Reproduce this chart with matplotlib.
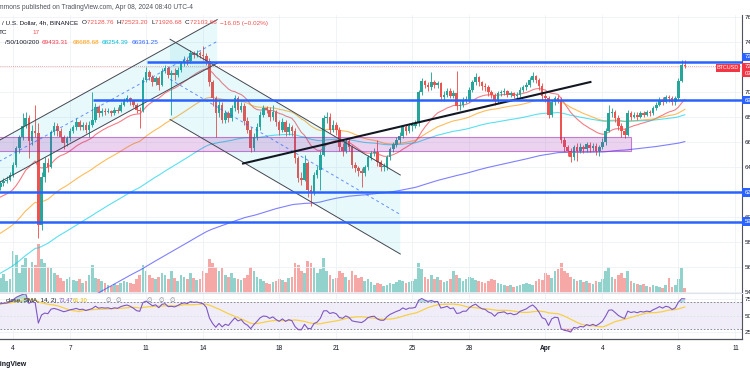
import numpy as np
import pandas as pd
import matplotlib
matplotlib.use("Agg")
import matplotlib.pyplot as plt
from matplotlib.patches import Rectangle, Polygon

plt.rcParams['font.family'] = ['Liberation Sans', 'DejaVu Sans']

# ---------------- data (BTCUSD 4h, prices in thousands) ----------------
first_open_k = 62.4
closes_k = [
    62.7, 62.9, 63.0, 63.4,
    64.2, 65.5, 66.4, 67.3, 67.9, 66.1,
    66.9, 66.7, 59.4, 63.2, 64.3, 64.0,
    66.8, 67.3, 66.9, 66.4, 65.9, 66.3,
    66.9, 67.2, 67.6, 67.2, 67.4, 67.0,
    67.4, 67.8, 68.8, 68.3, 68.5, 68.4,
    68.5, 68.3, 68.6, 68.5, 69.0, 69.3,
    69.5, 69.3, 69.0, 68.6, 68.5, 71.0,
    71.6, 71.2, 70.8, 71.1, 70.6, 71.7,
    71.9, 71.4, 71.5, 71.4, 71.8, 72.3,
    72.6, 72.5, 73.1, 73.0, 73.1, 73.0,
    72.9, 72.5, 70.8, 69.5, 68.3, 69.0,
    67.8, 68.3, 67.9, 68.7, 69.5, 68.6,
    68.9, 67.7, 67.0, 65.5, 66.4, 67.2,
    68.2, 68.7, 68.6, 68.0, 68.4, 67.6,
    67.0, 67.6, 66.8, 67.2, 66.9, 64.7,
    63.1, 63.0, 64.3, 62.2, 62.0, 63.4,
    63.8, 65.0, 67.9, 68.0, 67.0, 67.4,
    67.0, 65.6, 65.3, 66.1, 65.6, 64.2,
    63.9, 63.7, 63.5, 64.0, 64.8, 65.1,
    65.2, 64.4, 64.0, 64.0, 64.8, 65.4,
    65.8, 66.2, 66.5, 67.2, 66.9, 67.3,
    67.3, 67.5, 70.0, 70.9, 70.6, 70.4,
    70.8, 70.6, 70.7, 69.6, 69.8, 70.1,
    69.7, 69.9, 68.9, 69.0, 69.4, 69.4,
    70.2, 70.8, 71.2, 70.8, 70.5, 70.4,
    70.0, 69.8, 69.3, 69.9, 70.0, 70.1,
    69.8, 69.9, 69.7, 69.8, 70.2, 70.4,
    70.6, 71.0, 71.3, 71.0, 70.5, 69.7,
    69.5, 68.2, 69.2, 69.5, 69.4, 66.2,
    65.6, 65.3, 64.8, 65.6, 65.3, 65.6,
    65.4, 65.8, 65.5, 65.7, 65.3, 65.6,
    66.0, 66.9, 68.3, 68.4, 67.9, 67.3,
    66.9, 66.6, 68.3, 68.0, 68.2, 68.0,
    68.3, 68.2, 68.4, 68.3, 68.7, 69.0,
    69.4, 69.2, 69.6, 69.5, 69.2, 69.5,
    70.9, 72.12876, 72.10366,
]
highs_k = [
    62.9, 63.1, 63.3, 63.6,
    64.4, 65.7, 66.6, 68.3, 68.4, 68.2,
    67.4, 69.0, 67.5, 63.6, 64.8, 64.7,
    67.0, 67.6, 67.5, 67.1, 66.6, 66.5,
    67.1, 67.4, 67.9, 67.8, 67.6, 67.6,
    67.7, 70.0, 69.1, 69.0, 68.7, 68.7,
    68.7, 68.6, 68.8, 68.8, 69.2, 69.5,
    69.8, 69.6, 69.4, 69.1, 68.8, 71.2,
    72.0, 71.8, 71.4, 71.3, 71.3, 71.9,
    72.2, 72.1, 71.8, 71.9, 72.0, 72.5,
    72.9, 72.8, 73.4, 73.3, 73.4, 73.3,
    73.7, 73.1, 72.7, 71.0, 69.7, 69.3,
    69.2, 68.6, 68.5, 69.0, 69.8, 69.7,
    69.2, 69.1, 68.0, 67.2, 66.7, 67.5,
    68.5, 69.0, 68.9, 68.8, 69.0, 68.6,
    67.8, 67.9, 67.8, 67.5, 67.4, 67.1,
    64.9, 63.6, 65.0, 64.5, 62.6, 63.6,
    64.1, 65.3, 68.2, 68.4, 68.3, 67.8,
    67.6, 67.2, 65.9, 66.3, 66.3, 65.8,
    64.4, 64.1, 63.9, 64.2, 65.0, 65.3,
    65.5, 66.2, 64.6, 64.3, 65.0, 65.6,
    66.0, 66.4, 66.8, 67.4, 67.4, 67.5,
    67.6, 67.8, 70.2, 71.1, 71.0, 70.8,
    71.6, 71.0, 70.9, 70.8, 70.1, 70.3,
    70.3, 70.2, 71.7, 69.3, 69.6, 69.7,
    70.4, 71.0, 71.5, 71.3, 70.9, 70.7,
    70.6, 70.2, 69.9, 70.1, 70.2, 70.3,
    70.2, 70.1, 70.0, 70.0, 70.4, 70.6,
    70.8, 71.2, 71.6, 71.4, 71.1, 70.7,
    69.9, 69.7, 69.4, 69.7, 69.8, 69.6,
    66.4, 65.8, 65.5, 65.8, 65.9, 65.9,
    65.8, 66.0, 66.0, 65.9, 65.9, 65.8,
    66.3, 67.1, 69.0, 68.7, 68.6, 68.2,
    67.5, 67.1, 68.6, 68.5, 68.4, 68.4,
    68.5, 68.5, 68.6, 68.6, 68.9, 69.2,
    69.6, 69.6, 69.8, 69.8, 69.7, 69.7,
    71.1, 72.6, 72.5232,
]
lows_k = [
    62.2, 62.5, 62.7, 62.9,
    63.2, 64.0, 65.1, 66.2, 67.1, 64.7,
    65.8, 66.4, 58.3, 59.0, 62.8, 63.6,
    63.9, 66.6, 66.5, 66.0, 65.4, 65.7,
    66.1, 66.7, 67.0, 67.0, 67.0, 66.7,
    66.4, 67.2, 67.6, 68.0, 68.1, 68.2,
    68.3, 68.1, 68.2, 68.3, 68.4, 68.9,
    69.2, 69.0, 68.8, 68.3, 67.1, 68.4,
    70.8, 71.0, 70.5, 70.6, 70.2, 70.5,
    71.5, 71.1, 68.2, 71.0, 71.2, 71.6,
    72.1, 72.2, 72.3, 72.7, 72.8, 72.7,
    72.6, 72.2, 70.5, 68.9, 66.4, 68.0,
    67.5, 67.5, 67.6, 67.7, 68.5, 68.3,
    68.4, 67.4, 66.7, 65.2, 65.3, 66.2,
    67.0, 68.0, 68.3, 67.7, 67.8, 67.3,
    66.6, 66.8, 66.5, 66.6, 66.5, 64.3,
    62.8, 62.6, 62.9, 61.6, 60.9, 61.8,
    63.1, 62.2, 64.9, 67.5, 66.7, 66.8,
    66.6, 65.3, 64.9, 65.1, 65.3, 63.9,
    63.6, 63.3, 62.4, 63.3, 63.8, 64.6,
    64.9, 64.1, 63.7, 63.7, 63.8, 64.6,
    65.2, 65.6, 65.9, 66.3, 66.6, 66.7,
    66.9, 67.1, 67.3, 69.8, 70.3, 70.1,
    70.2, 70.3, 70.3, 69.3, 69.3, 69.6,
    69.5, 69.5, 68.6, 68.6, 68.8, 69.1,
    69.2, 70.0, 70.6, 70.5, 70.2, 70.1,
    69.7, 69.5, 69.0, 69.1, 69.7, 69.8,
    69.6, 69.6, 69.5, 69.5, 69.6, 70.0,
    70.2, 70.4, 70.8, 70.7, 70.2, 69.4,
    69.2, 67.9, 68.0, 69.0, 69.1, 65.9,
    65.2, 64.9, 64.4, 64.6, 64.5, 65.1,
    65.1, 65.2, 65.2, 65.3, 65.0, 64.9,
    65.4, 65.8, 66.8, 68.0, 67.6, 67.0,
    66.4, 66.3, 66.5, 67.8, 67.9, 67.8,
    67.9, 68.0, 68.1, 68.1, 68.2, 68.6,
    68.9, 69.0, 69.1, 69.2, 69.0, 69.0,
    69.4, 70.8, 71.92668,
]
volumes = [
    15, 19, 12, 14,
    42, 38, 20, 28, 35, 25,
    31, 28, 49, 34, 30, 26,
    25, 20, 18, 15, 12, 14,
    16, 13, 12, 14, 10, 12,
    18, 28, 15, 14, 12, 10,
    8, 7, 9, 8, 10, 12,
    11, 10, 9, 14, 18, 28,
    22, 18, 15, 14, 16, 20,
    18, 14, 22, 15, 12, 18,
    16, 14, 20, 15, 13, 14,
    22, 20, 34, 30, 26, 22,
    25, 18, 16, 20, 15, 14,
    13, 15, 18, 26, 22, 16,
    14, 12, 10, 9, 11, 12,
    14, 13, 11, 15, 16, 30,
    28, 22, 20, 32, 30, 26,
    20, 24, 35, 22, 18, 14,
    15, 22, 20, 16, 13, 22,
    18, 15, 16, 12, 14, 11,
    8, 10, 9, 7, 8, 10,
    9, 11, 13, 12, 10, 11,
    12, 14, 30, 24, 16, 14,
    18, 14, 16, 13, 11, 12,
    14, 22, 18, 15, 12, 14,
    16, 15, 13, 12, 11, 10,
    12, 14, 13, 10, 9, 8,
    7, 8, 6, 7, 8, 9,
    10, 9, 8, 12, 14, 13,
    20, 18, 15, 22, 24, 30,
    22, 20, 16, 14, 12, 13,
    11, 12, 10, 9, 12, 11,
    14, 22, 26, 16, 14, 18,
    20, 15, 22, 12, 10, 9,
    8, 9, 7, 6, 8, 7,
    6, 5, 8, 15, 6, 8,
    14, 25, 5,
]
# EMA 20/50/100/200 values at the first visible bar
ema_periods = [20, 50, 100, 200]
ema_start = [61600, 58700, 55500, 49500]
ema_colors = ['#f23645', '#ff9800', '#00d0e8', '#3b3bff']
ema_legend = ['69433.31', '68688.68', '68254.39', '66361.25']
ema_legend_colors = ['#f23645', '#ff9800', '#00bcd4', '#2962ff']
# RSI warm-up averages (gain, loss) at first bar
rsi_seed = (420.0, 200.0)
rsi_legend = ['73.47', '61.30']

# Drawings (day-of-March coordinates, prices)
asc_x = (3.05, 14.74); asc_up = (65940, 75790); asc_lo = (62580, 72310)
desc_x = (12.26, 24.37); desc_up = (74220, 63360); desc_lo = (67800, 57040)
trend_x = (16.1, 34.37); trend_p = (64280, 70800)
zone_x = (3.0, 36.53); zone_p = (65300, 66380)
levels = [(72420, 11.05), (69360, 8.21), (62020, 3.0), (59620, 3.0)]
last_price = 72103.66
hidden_ticks = [72000, 62000]   # price-scale labels covered by the level/price tags

tick_days = [4, 7, 11, 14, 18, 21, 25, 28, 32, 35, 39, 42]
tick_labels = ['4', '7', '11', '14', '18', '21', '25', '28', 'Apr', '4', '8', '11']

# ---------------- derived ----------------
closes = np.array(closes_k) * 1000
highs = np.array(highs_k) * 1000
lows = np.array(lows_k) * 1000
opens = np.concatenate([[first_open_k * 1000], closes[:-1]])
n = len(closes)
days = 3 + 8 / 24 + np.arange(n) / 6.0
up = closes >= opens

emas = []
for p, s in zip(ema_periods, ema_start):
    a = 2.0 / (p + 1)
    e = [s]
    for c in closes[1:]:
        e.append(e[-1] + a * (c - e[-1]))
    emas.append(np.array(e))

ag, al = rsi_seed
rsi = [100 - 100 / (1 + ag / al)]
for d in np.diff(closes):
    ag = (ag * 13 + max(d, 0)) / 14
    al = (al * 13 + max(-d, 0)) / 14
    rsi.append(100 - 100 / (1 + ag / al))
rsi = np.array(rsi)
rsi_ma = pd.Series(rsi).rolling(14, min_periods=1).mean().values

# ---------------- figure ----------------
W, H = 750, 375
fig = plt.figure(figsize=(7.5, 3.75), dpi=100)
fig.patch.set_facecolor('white')

def fx(px): return px / W
def fy(py): return 1 - py / H

ax = fig.add_axes([0, fy(293), fx(741.5), (293 - 15) / H])
axr = fig.add_axes([0, fy(339), fx(741.5), (339 - 293) / H], sharex=ax)
axv = ax.twinx()

GREEN, RED = '#26a69a', '#ef5350'
GRID = '#eef1f6'
XL = (3.316, 42.316)

ax.set_xlim(*XL)
ax.set_ylim(53920, 76160)
axv.set_ylim(0, max(volumes) * 278 / 49)

# grid
ax.set_xticks(tick_days)
ax.set_yticks(np.arange(54000, 76001, 2000))
ax.grid(True, color=GRID, lw=0.6, zorder=0)
ax.tick_params(axis='x', length=0, labelbottom=False)
ax.tick_params(axis='y', length=0, labelleft=False, labelright=True, labelsize=4.5,
               labelcolor='#131722', pad=2.5)
ax.yaxis.set_major_formatter(matplotlib.ticker.FuncFormatter(
    lambda v, p: '' if round(v) in hidden_ticks else f'{v:.2f}'))
for s in ['top', 'left']:
    ax.spines[s].set_visible(False)
ax.spines['bottom'].set_color('#e0e3eb'); ax.spines['bottom'].set_linewidth(0.8)
ax.spines['right'].set_color('#50535e'); ax.spines['right'].set_linewidth(0.8)
axv.set_axis_off()
ax.set_zorder(axv.get_zorder() + 1)
ax.patch.set_visible(False)

# volume
vcol = [GREEN if u else RED for u in up]
axv.bar(days, volumes, width=0.14, color=vcol, alpha=0.5, linewidth=0)

# EMAs
for e, col in zip(emas, ema_colors):
    ax.plot(days, e, color=col, lw=0.8, alpha=0.65, zorder=2)

# candles
ccol = np.where(up, GREEN, RED)
ax.vlines(days, lows, highs, colors=ccol, lw=0.65, zorder=3)
body = np.maximum(np.abs(closes - opens), 70)
ax.bar(days, body, bottom=np.minimum(opens, closes), width=0.135, color=ccol,
       linewidth=0, zorder=3.1)

# current price dotted line
ax.axhline(last_price, color=RED, lw=0.6, ls=(0, (1, 1.5)), alpha=0.7, zorder=2.5)

# purple zone
ax.add_patch(Rectangle((zone_x[0], zone_p[0]), zone_x[1] - zone_x[0], zone_p[1] - zone_p[0],
                       facecolor=(0.61, 0.15, 0.69, 0.2), edgecolor=(0.61, 0.15, 0.69, 0.55),
                       lw=0.8, zorder=5))

# channels
def channel(xs, upp, low):
    ax.add_patch(Polygon([(xs[0], low[0]), (xs[0], upp[0]), (xs[1], upp[1]), (xs[1], low[1])],
                         closed=True, facecolor=(0, 0.74, 0.83, 0.09), edgecolor='none', zorder=4))
    ax.plot(xs, upp, color='#434651', lw=0.7, zorder=5)
    ax.plot(xs, low, color='#434651', lw=0.7, zorder=5)
    mid = ((upp[0] + low[0]) / 2, (upp[1] + low[1]) / 2)
    ax.plot(xs, mid, color='#2962ff', lw=0.7, alpha=0.7, ls=(0, (3, 3)), zorder=5)

channel(asc_x, asc_up, asc_lo)
channel(desc_x, desc_up, desc_lo)

# trend line
ax.plot(trend_x, trend_p, color='#131722', lw=1.5, zorder=6)

# horizontal levels
for price, x0 in levels:
    ax.plot([x0, XL[1]], [price, price], color='#2962ff', lw=1.8, zorder=6,
            solid_capstyle='butt')

# ---------------- RSI pane ----------------
axr.set_ylim(14.4, 84.1)
axr.set_yticks([25, 50, 75])
axr.grid(True, color=GRID, lw=0.6, zorder=0)
axr.axhspan(30, 70, color='#7e57c2', alpha=0.1, lw=0, zorder=0.5)
for lv in (70, 50, 30):
    axr.axhline(lv, color='#787b86', lw=0.6, ls=(0, (2, 2)), zorder=1)
axr.fill_between(days, rsi, 70, where=rsi > 70, interpolate=True, color=GREEN, alpha=0.35, lw=0, zorder=1.5)
axr.fill_between(days, rsi, 30, where=rsi < 30, interpolate=True, color=RED, alpha=0.35, lw=0, zorder=1.5)
axr.plot(days, rsi_ma, color='#f7d046', lw=0.9, zorder=2)
axr.plot(days, rsi, color='#7e57c2', lw=0.8, zorder=3)
axr.tick_params(axis='y', length=0, labelleft=False, labelright=True, labelsize=4.5,
                labelcolor='#131722', pad=2.5)
axr.yaxis.set_major_formatter(matplotlib.ticker.FuncFormatter(lambda v, p: f'{v:.2f}'))
axr.set_xticks(tick_days)
axr.set_xticklabels(tick_labels)
axr.tick_params(axis='x', length=0, labelsize=4.7, labelcolor='#131722', pad=4)
for t in axr.get_xticklabels():
    if t.get_text() == 'Apr':
        t.set_fontweight('bold')
for s in ['top', 'left']:
    axr.spines[s].set_visible(False)
axr.spines['bottom'].set_color('#50535e'); axr.spines['bottom'].set_linewidth(0.9)
axr.spines['right'].set_color('#50535e'); axr.spines['right'].set_linewidth(0.8)
axr.set_xlim(*XL)

# ---------------- texts ----------------
fig.canvas.draw()
R = fig.canvas.get_renderer()

def seq(x0, y, parts, size, gap=0.0, ha='left'):
    x = x0
    for s, col in parts:
        t = fig.text(fx(x), fy(y), s, color=col, fontsize=size, va='center', ha=ha)
        x += t.get_window_extent(renderer=R).width + gap
    return x

DARK = '#131722'
GRAY = '#50535e'
seq(-1.5, 7.5, [("mmons published on TradingView.com, Apr 08, 2024 08:40 UTC-4", GRAY)], 4.8)
seq(2, 23, [("/ U.S. Dollar, 4h, BINANCE  ", DARK), ("O", DARK), ("72128.76  ", RED),
            ("H", DARK), ("72523.20  ", RED), ("L", DARK), ("71926.68  ", RED),
            ("C", DARK), ("72103.66  ", RED), ("\u221216.05 (\u22120.02%)", RED)], 4.55)
seq(-1, 33, [("TC", DARK)], 4.55)
seq(32, 33, [("17", RED)], 4.55)
fig.text(fx(39), fy(42.3), "/50/100/200", color=DARK, fontsize=4.55, va='center', ha='right')
for xp, v, c in zip((42, 73, 102, 132), ema_legend, ema_legend_colors):
    fig.text(fx(xp), fy(42.3), v, color=c, fontsize=4.55, va='center', ha='left')
fig.text(fx(56), fy(300.7), "close, SMA, 14, 2)", color=DARK, fontsize=4.4, va='center', ha='right')
fig.text(fx(58.5), fy(300.7), rsi_legend[0], color='#7e57c2', fontsize=4.2, va='center', ha='left')
fig.text(fx(73), fy(300.7), rsi_legend[1], color='#e6b800', fontsize=4.2, va='center', ha='left')
for xp in (106, 116, 147, 159, 170):
    fig.text(fx(xp), fy(300.7), "\u2205", color='#787b86', fontsize=4.5, va='center', ha='left',
             family='DejaVu Sans')
fig.text(fx(27), fy(365), "TradingView", color=DARK, fontsize=5.0, fontweight='bold',
         va='center', ha='right')

# right-axis label boxes
def box(yc, h, color, lines):
    fig.add_artist(Rectangle((fx(741.8), fy(yc + h / 2)), fx(9), h / H, transform=fig.transFigure,
                             facecolor=color, edgecolor='none', zorder=10))
    for k, s in enumerate(lines):
        off = (k - (len(lines) - 1) / 2) * 6.5
        fig.text(fx(744.5), fy(yc + off), s, color='white', fontsize=4.3, va='center', ha='left',
                 zorder=11)

box(57, 8.5, '#2962ff', ['72420.00'])
box(69.8, 14, '#f23645', ['72103.66', '03:19:21'])
box(100, 8.5, '#2962ff', ['69360.00'])
box(192.5, 8.5, '#2962ff', ['62020.00'])
box(221.7, 8.5, '#2962ff', ['59620.00'])

# BTCUSD tag
fig.add_artist(Rectangle((fx(715.5), fy(72)), fx(24), 8.5 / H, transform=fig.transFigure,
                         facecolor='#f23645', edgecolor='none', zorder=10))
fig.text(fx(727.5), fy(67.8), "BTCUSD", color='white', fontsize=4.0, va='center', ha='center', zorder=11)

fig.savefig('out.png', dpi=100, facecolor='white')
